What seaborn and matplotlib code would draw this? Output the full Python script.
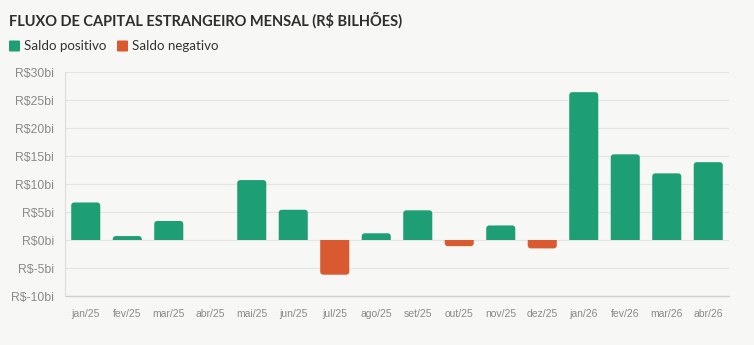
import matplotlib
matplotlib.use("Agg")
import matplotlib.pyplot as plt
from matplotlib.patches import FancyBboxPatch, PathPatch
from matplotlib.path import Path
import numpy as np
import pandas as pd
import seaborn as sns

# Monthly foreign capital flow (R$ billions)
meses = ["jan/25", "fev/25", "mar/25", "abr/25", "mai/25", "jun/25", "jul/25", "ago/25",
         "set/25", "out/25", "nov/25", "dez/25", "jan/26", "fev/26", "mar/26", "abr/26"]
saldo = [6.7, 0.7, 3.4, 0.0, 10.7, 5.4, -6.2, 1.2, 5.3, -1.1, 2.6, -1.5, 26.4, 15.3, 11.9, 13.9]
y_ticks = [-10, -5, 0, 5, 10, 15, 20, 25, 30]
legend_labels = ["Saldo positivo", "Saldo negativo"]
titulo = "FLUXO DE CAPITAL ESTRANGEIRO MENSAL (R$ BILHÕES)"

VERDE = "#1e9e74"
LARANJA = "#d95a30"
FUNDO = "#f7f7f5"

df = pd.DataFrame({
    "mes": meses,
    "saldo": saldo,
    "sinal": [legend_labels[0] if v >= 0 else legend_labels[1] for v in saldo],
})

sns.set_theme(style="white")
plt.rcParams["font.family"] = ["Liberation Sans", "DejaVu Sans"]

W, H = 754, 345
fig = plt.figure(figsize=(W / 100, H / 100), dpi=100, facecolor=FUNDO)
ax = fig.add_axes([65 / W, (H - 296) / H, (729 - 65) / W, (296 - 72) / H])
ax.set_facecolor(FUNDO)

sns.barplot(data=df, x="mes", y="saldo", hue="sinal", order=meses,
            hue_order=legend_labels, palette=[VERDE, LARANJA], dodge=False,
            saturation=1, width=0.7, legend=False, ax=ax, zorder=3)

ax.set_ylim(-10, 30)
ax.set_xlim(-0.5, len(meses) - 0.5)

# Bars with rounded outer end, square at the zero baseline
px_x = (729 - 65) / len(meses)      # pixels per category
px_y = (296 - 72) / 40.0            # pixels per unit
r_px = 3.0


def rounded_bar(x0, w, base, end):
    sgn = 1 if end >= base else -1
    hh = abs(end - base)
    r = min(r_px, hh * px_y, w * px_x / 2)
    rx, ry = r / px_x, r / px_y
    t = np.linspace(0, np.pi / 2, 8)
    verts = [(x0, base)]
    # left corner
    for a in t:
        verts.append((x0 + rx - rx * np.cos(a), end - sgn * ry + sgn * ry * np.sin(a)))
    # right corner
    for a in t[::-1]:
        verts.append((x0 + w - rx + rx * np.cos(a), end - sgn * ry + sgn * ry * np.sin(a)))
    verts.append((x0 + w, base))
    verts.append((x0, base))
    codes = [Path.MOVETO] + [Path.LINETO] * (len(verts) - 2) + [Path.CLOSEPOLY]
    return Path(verts, codes)


for p in list(ax.patches):
    x0, y0 = p.get_x(), p.get_y()
    w, h = p.get_width(), p.get_height()
    color = p.get_facecolor()
    p.remove()
    if h == 0 or np.isnan(h):
        continue
    ax.add_patch(PathPatch(rounded_bar(x0, w, y0, y0 + h), facecolor=color,
                           edgecolor="none", zorder=3))

ax.set_yticks(y_ticks)
ax.set_yticklabels([f"R${v}bi" for v in y_ticks])
ax.set_xlabel("")
ax.set_ylabel("")
ax.grid(axis="y", color="#e4e4e2", linewidth=0.8, zorder=0)
ax.grid(axis="x", visible=False)
ax.set_axisbelow(True)
for s in ["top", "right", "bottom"]:
    ax.spines[s].set_visible(False)
ax.spines["left"].set_color("#dcdcda")
ax.spines["left"].set_linewidth(0.8)
ax.axhline(-10, color="#cfcfcd", linewidth=1.0, zorder=1, clip_on=False)

ax.tick_params(axis="y", length=3, width=0.8, color="#dcdcda", pad=5,
               labelsize=8.8, labelcolor="#8a8a8a")
ax.tick_params(axis="x", length=0, pad=9.5, labelsize=7.5, labelcolor="#8a8a8a")

# Title and legend
fig.text(9 / W, (H - 20) / H, titulo, ha="left", va="center",
         fontsize=10.5, fontweight="bold", color="#2e2e2e",
         family=["Lato", "DejaVu Sans"])

for (x_sq, cor, label) in [(9, VERDE, legend_labels[0]), (117, LARANJA, legend_labels[1])]:
    fig.patches.append(FancyBboxPatch(((x_sq) / W, (H - 51.5) / H), 11 / W, 11 / H,
                                      boxstyle="round,pad=0,rounding_size=0.002",
                                      transform=fig.transFigure, facecolor=cor,
                                      edgecolor="none"))
    fig.text((x_sq + 15) / W, (H - 46) / H, label, ha="left", va="center",
             fontsize=9.6, color="#333333", family=["Lato", "DejaVu Sans"])

fig.savefig("out.png", dpi=100, facecolor=FUNDO)
